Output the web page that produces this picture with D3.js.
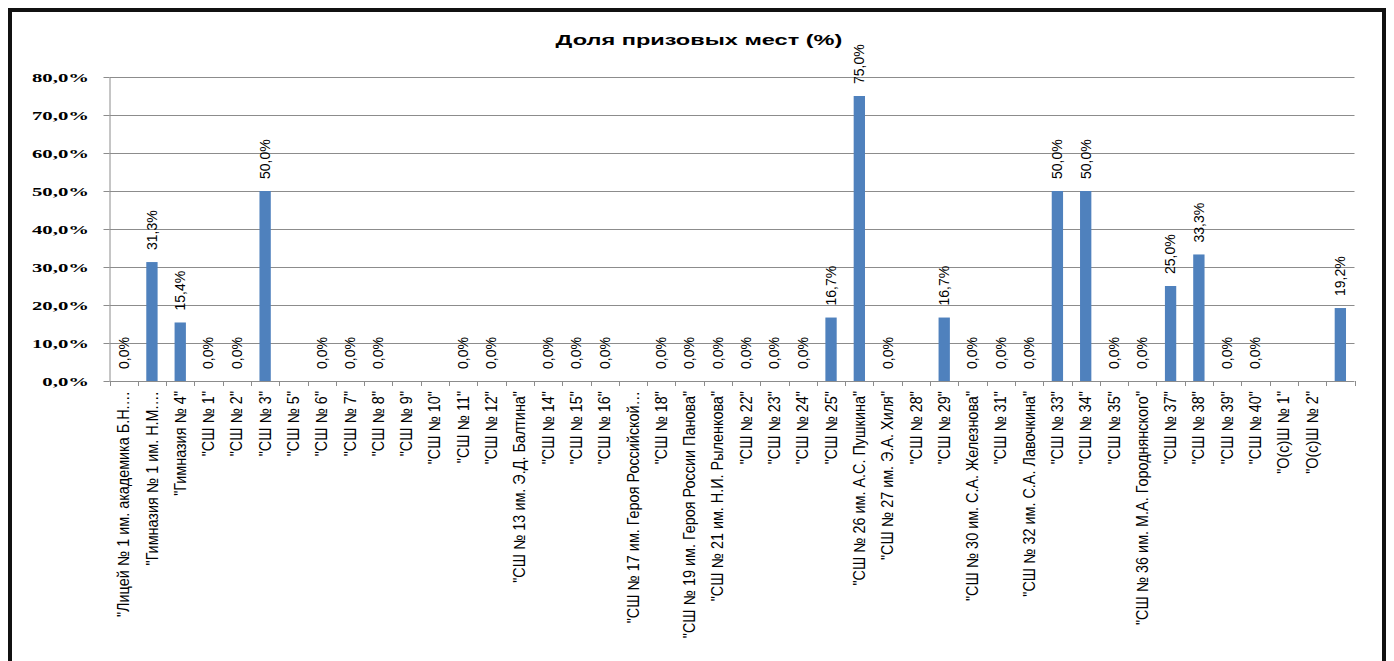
<!DOCTYPE html>
<html>
<head>
<meta charset="utf-8">
<script src="https://cdn.jsdelivr.net/npm/d3@7"></script>
<style>
  body { margin: 0; background: #fff; }
</style>
</head>
<body>
<div id="chart"></div>
<script>
// categories (schools) and their share of prize places, %; null = no bar, no label
const categories = [
  '"Лицей № 1 им. академика Б.Н.…', '"Гимназия № 1 им. Н.М.…', '"Гимназия № 4"',
  '"СШ № 1"', '"СШ № 2"', '"СШ № 3"', '"СШ № 5"', '"СШ № 6"', '"СШ № 7"', '"СШ № 8"',
  '"СШ № 9"', '"СШ № 10"', '"СШ № 11"', '"СШ № 12"', '"СШ № 13 им. Э.Д. Балтина"',
  '"СШ № 14"', '"СШ № 15"', '"СШ № 16"', '"СШ № 17 им. Героя Российской…', '"СШ № 18"',
  '"СШ № 19 им. Героя России Панова"', '"СШ № 21 им. Н.И. Рыленкова"', '"СШ № 22"',
  '"СШ № 23"', '"СШ № 24"', '"СШ № 25"', '"СШ № 26 им. А.С. Пушкина"',
  '"СШ № 27 им. Э.А. Хиля"', '"СШ № 28"', '"СШ № 29"', '"СШ № 30 им. С.А. Железнова"',
  '"СШ № 31"', '"СШ № 32 им. С.А. Лавочкина"', '"СШ № 33"', '"СШ № 34"', '"СШ № 35"',
  '"СШ № 36 им. М.А. Городнянского"', '"СШ № 37"', '"СШ № 38"', '"СШ № 39"', '"СШ № 40"',
  '"О(с)Ш № 1"', '"О(с)Ш № 2"', ''
];
const shares = [
  0, 31.3, 15.4,
  0, 0, 50.0, null, 0, 0, 0,
  null, null, 0, 0, null,
  0, 0, 0, null, 0,
  0, 0, 0,
  0, 0, 16.7, 75.0,
  0, null, 16.7, 0,
  0, 0, 50.0, 50.0, 0,
  0, 25.0, 33.3, 0, 0,
  null, null, 19.2
];
const yTicks = [0, 10, 20, 30, 40, 50, 60, 70, 80];
const title = 'Доля призовых мест (%)';

const W = 1394, H = 661;
const ru = d3.formatLocale({decimal: ',', thousands: ' ', grouping: [3], currency: ['', '']});
const pct = v => ru.format('.1f')(v) + '%';

const svg = d3.select('#chart').append('svg')
  .attr('width', W).attr('height', H)
  .style('display', 'block');

// outer frame
svg.append('rect')
  .attr('x', 10).attr('y', 10)
  .attr('width', 1374).attr('height', 700)
  .attr('fill', 'none')
  .attr('stroke', '#111').attr('stroke-width', 4);

const x = d3.scaleBand()
  .domain(d3.range(categories.length))
  .range([109.5, 1354.5])
  .padding(0);

const y = d3.scaleLinear()
  .domain([0, 80])
  .range([381, 77]);

// gridlines
svg.append('g').selectAll('line')
  .data(yTicks.slice(1))
  .enter().append('line')
  .attr('x1', x.range()[0]).attr('x2', x.range()[1])
  .attr('y1', d => Math.round(y(d)) + 0.5).attr('y2', d => Math.round(y(d)) + 0.5)
  .attr('stroke', '#8c8c8c').attr('stroke-width', 1);

// y axis
const yAxis = svg.append('g')
  .attr('transform', `translate(${x.range()[0]},0)`)
  .call(d3.axisLeft(y).tickValues(yTicks).tickSize(6).tickSizeOuter(0).tickFormat(pct));
yAxis.select('.domain').attr('stroke', '#8c8c8c');
yAxis.selectAll('.tick line').attr('stroke', '#8c8c8c');
yAxis.selectAll('.tick text')
  .attr('x', 0).attr('dy', '0.35em')
  .attr('text-anchor', 'end')
  .style('font-family', '"Liberation Serif", serif')
  .style('font-weight', 'bold')
  .style('font-size', '13px')
  .attr('fill', '#000');
const refW = yAxis.select('.tick:last-of-type text').node().getComputedTextLength();
const ySx = 57 / refW;
yAxis.selectAll('.tick text').attr('transform', `translate(-20.5,0) scale(${ySx},1)`);

// x axis baseline and boundary ticks
svg.append('line')
  .attr('x1', x.range()[0]).attr('x2', x.range()[1])
  .attr('y1', y(0) + 0.5).attr('y2', y(0) + 0.5)
  .attr('stroke', '#8c8c8c');
svg.append('g').selectAll('line')
  .data(d3.range(categories.length + 1))
  .enter().append('line')
  .attr('x1', i => Math.round(i < categories.length ? x(i) : x.range()[1]) + 0.5)
  .attr('x2', i => Math.round(i < categories.length ? x(i) : x.range()[1]) + 0.5)
  .attr('y1', y(0)).attr('y2', y(0) + 5)
  .attr('stroke', '#8c8c8c');

// bars
const bw = x.bandwidth() * 0.4;
const pts = shares.map((v, i) => ({i, v})).filter(d => d.v !== null);

svg.append('g').selectAll('rect')
  .data(pts.filter(d => d.v > 0))
  .enter().append('rect')
  .attr('x', d => x(d.i) + (x.bandwidth() - bw) / 2)
  .attr('width', bw)
  .attr('y', d => y(d.v))
  .attr('height', d => y(0) - y(d.v))
  .attr('fill', '#4f81bd');

// value labels
svg.append('g').selectAll('text')
  .data(pts)
  .enter().append('text')
  .attr('transform', d => `translate(${x(d.i) + x.bandwidth() / 2},${y(d.v) - 12}) rotate(-90)`)
  .attr('dy', '0.35em')
  .attr('text-anchor', 'start')
  .style('font-family', '"Liberation Sans", Arial, sans-serif')
  .style('font-size', '14px')
  .attr('fill', '#000')
  .text(d => pct(d.v));

// category labels
svg.append('g').selectAll('text')
  .data(categories)
  .enter().append('text')
  .attr('transform', (d, i) => `translate(${x(i) + x.bandwidth() / 2},391) rotate(-90) scale(0.9,1)`)
  .attr('dy', '0.35em')
  .attr('text-anchor', 'end')
  .style('font-family', '"Liberation Sans", Arial, sans-serif')
  .style('font-size', '16px')
  .attr('fill', '#000')
  .text(d => d);

// title
const t = svg.append('text')
  .attr('text-anchor', 'middle')
  .style('font-family', '"Liberation Sans", Arial, sans-serif')
  .style('font-weight', 'bold')
  .style('font-size', '14px')
  .attr('fill', '#000')
  .text(title);
const tW = t.node().getComputedTextLength();
t.attr('transform', `translate(699,45) scale(${287 / tW},1)`);
</script>
</body>
</html>
